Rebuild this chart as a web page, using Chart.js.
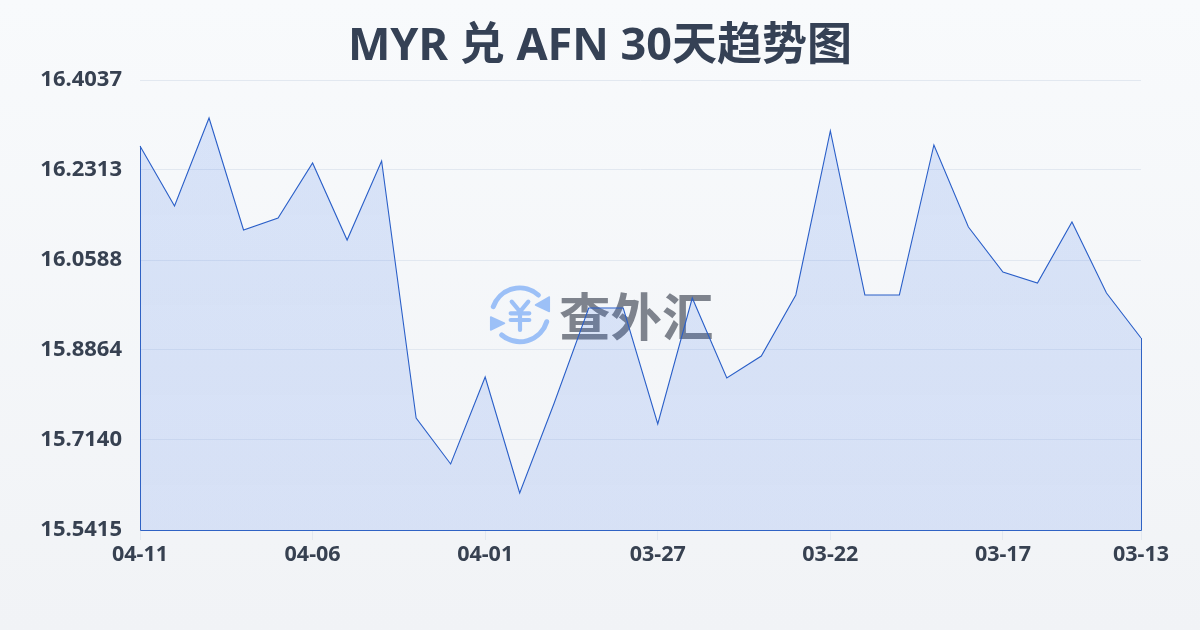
<!DOCTYPE html>
<html lang="zh">
<head>
  <meta charset="UTF-8">
  <title>MYR 兑 AFN 30天趋势图</title>
  <script src="https://cdn.jsdelivr.net/npm/chart.js"></script>
  <style>
    html, body { margin: 0; padding: 0; }
    body { width: 1200px; height: 630px; overflow: hidden; position: relative;
           background: linear-gradient(180deg, #f8fafc 0%, #f1f3f6 100%); }
    #mark { position: absolute; left: 488px; top: 283px; width: 230px; height: 64px; }
    #mark svg { position: absolute; left: 0; top: 0; }
    #mark span { position: absolute; left: 71px; top: -1px; font: 700 51.5px/64px "Noto Sans CJK SC"; color: #7e838d; white-space: nowrap; }
    #wrap { position: absolute; left: 0; top: 0; width: 1200px; height: 630px; }
  </style>
</head>
<body>
  <div id="mark">
    <svg width="64" height="64" viewBox="0 0 64 64" fill="none" stroke="#9cc0f7" stroke-linecap="round" stroke-linejoin="round">
      <path d="M5.3 23.7 A28 28 0 0 1 50.3 12" stroke-width="5"/>
      <path d="M58.7 38.7 A28 28 0 0 1 13.7 52" stroke-width="5"/>
      <path d="M61.3 14 L61.3 28.5 L47.5 22 Z" fill="#9cc0f7" stroke-width="1.5"/>
      <path d="M2.7 34 L2.7 47 L16.5 40.3 Z" fill="#9cc0f7" stroke-width="1.5"/>
      <path d="M23.7 18.7 L32 28.7 L40.3 18.7 M22.7 30.3 H41.3 M22.7 37 H41.3 M32 28.7 V47" stroke-width="4.2"/>
    </svg>
    <span>查外汇</span>
  </div>
  <div id="wrap"><canvas id="chart" width="1200" height="630"></canvas></div>

  <script>
    const title = 'MYR 兑 AFN 30天趋势图';
    const dates = ['04-11','04-10','04-09','04-08','04-07','04-06','04-05','04-04','04-03','04-02',
                   '04-01','03-31','03-30','03-29','03-28','03-27','03-26','03-25','03-24','03-23',
                   '03-22','03-21','03-20','03-19','03-18','03-17','03-16','03-15','03-14','03-13'];
    const rates = [16.2772,16.1623,16.3309,16.1163,16.1393,16.2447,16.0971,16.2485,15.7561,15.6680,
                   15.8346,15.6124,15.7848,15.9669,15.9669,15.7446,15.9860,15.8327,15.8749,15.9918,
                   16.3060,15.9918,15.9918,16.2792,16.1220,16.0358,16.0148,16.1316,15.9956,15.9094];
    const yTicks = [15.5415,15.7140,15.8864,16.0588,16.2313,16.4037];
    const xTickIdx = [0,5,10,15,20,25,29];

    // the area outline also runs down both sides and along the base
    const outline = {
      id: 'outline',
      afterDatasetsDraw(chart) {
        const x = chart.scales.x, y = chart.scales.y, ctx = chart.ctx;
        const left = Math.round(x.getPixelForValue(0)) + 0.5;
        const right = Math.round(x.getPixelForValue(rates.length - 1)) + 0.5;
        const base = Math.round(y.getPixelForValue(yTicks[0])) + 0.5;
        ctx.save();
        ctx.strokeStyle = '#2f62c4';
        ctx.lineWidth = 1;
        ctx.beginPath();
        ctx.moveTo(left, y.getPixelForValue(rates[0]));
        ctx.lineTo(left, base);
        ctx.lineTo(right, base);
        ctx.lineTo(right, y.getPixelForValue(rates[rates.length - 1]));
        ctx.stroke();
        ctx.restore();
      }
    };

    new Chart(document.getElementById('chart'), {
      type: 'line',
      data: {
        labels: dates,
        datasets: [{
          data: rates,
          borderColor: '#2a5fc8',
          borderWidth: 1.1,
          backgroundColor(context) {
            const area = context.chart.chartArea;
            if (!area) return 'rgba(37,99,235,0.15)';
            const g = context.chart.ctx.createLinearGradient(0, area.top, 0, area.bottom);
            g.addColorStop(0, 'rgba(37,99,235,0.15)');
            g.addColorStop(1, 'rgba(37,99,235,0.13)');
            return g;
          },
          fill: 'start',
          tension: 0,
          pointRadius: 0
        }]
      },
      options: {
        responsive: false,
        animation: false,
        layout: { padding: 0 },
        plugins: {
          legend: { display: false },
          tooltip: { enabled: false },
          title: {
            display: true,
            text: title,
            color: '#354155',
            font: { family: '"Noto Sans", "Noto Sans CJK SC"', size: 45, weight: 'bold', lineHeight: 1.2 },
            padding: { top: 20, bottom: 6 }
          }
        },
        scales: {
          x: {
            type: 'category',
            offset: false,
            grid: { drawOnChartArea: false, drawTicks: true, tickLength: 10, tickColor: '#e2e8f0' },
            border: { display: false },
            afterBuildTicks(scale) { scale.ticks = xTickIdx.map(i => ({ value: i, label: dates[i] })); },
            afterFit(scale) { scale.height = 100; },
            ticks: {
              autoSkip: false, maxRotation: 0, padding: 2,
              color: '#374151',
              font: { family: '"Noto Sans"', size: 21.5, weight: 'bold' },
              callback(v) { return dates[v]; }
            }
          },
          y: {
            min: yTicks[0],
            max: yTicks[yTicks.length - 1],
            grid: { color: '#e2e8f0', lineWidth: 1, drawTicks: false },
            border: { display: false },
            afterBuildTicks(scale) { scale.ticks = yTicks.map(v => ({ value: v })); },
            afterFit(scale) { scale.width = 140; },
            ticks: {
              padding: 18,
              color: '#374151',
              font: { family: '"Noto Sans"', size: 22, weight: 'bold' },
              callback(v) { return v.toFixed(4); }
            }
          },
          // empty right axis keeps the 59px margin without moving the centred title
          spacer: {
            position: 'right',
            grid: { display: false },
            border: { display: false },
            ticks: { display: false },
            afterFit(scale) { scale.width = 59; }
          }
        }
      },
      plugins: [outline]
    });
  </script>
</body>
</html>
